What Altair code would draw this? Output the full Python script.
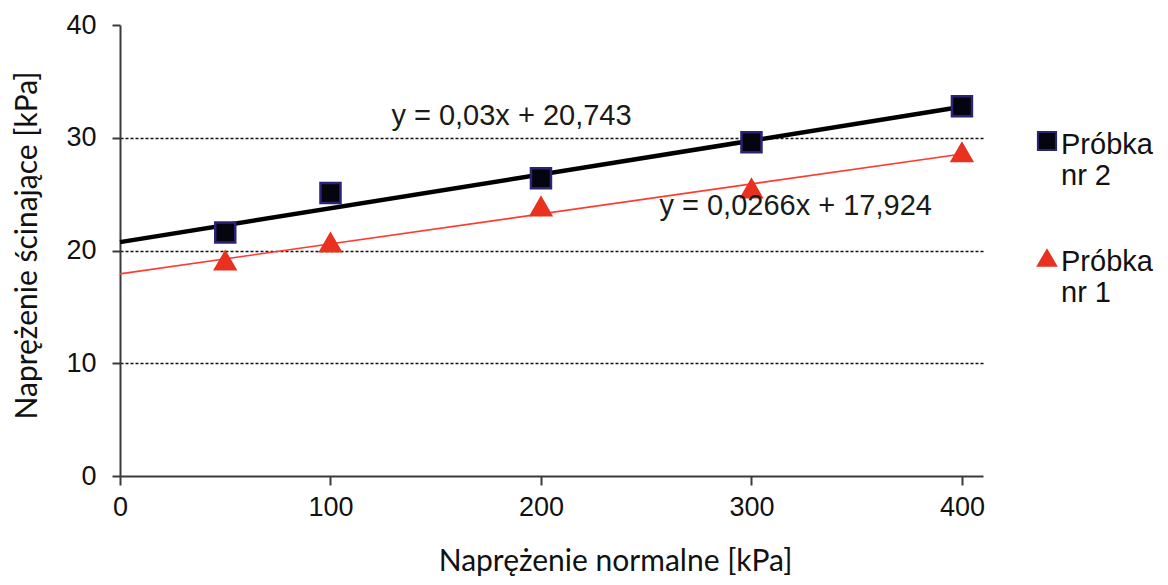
import altair as alt
import pandas as pd

# ---- data ----
x_vals = [50, 100, 200, 300, 400]
nr2_vals = [21.6, 25.1, 26.4, 29.6, 32.8]
nr1_vals = [19.1, 20.7, 23.9, 25.5, 28.7]
series_names = ["Próbka nr 2", "Próbka nr 1"]
slopes = [0.03, 0.0266]
intercepts = [20.743, 17.924]
eq_labels = ["y = 0,03x + 20,743", "y = 0,0266x + 17,924"]
eq_x = [186, 321]
eq_y = [31.13, 23.15]
trend_x = [0, 400]
x_ticks = [0, 100, 200, 300, 400]
y_ticks = [0, 10, 20, 30, 40]

points = pd.DataFrame({
    "x": x_vals * 2,
    "y": nr2_vals + nr1_vals,
    "series": [series_names[0]] * len(x_vals) + [series_names[1]] * len(x_vals),
})

trend_rows = []
for name, a, b in zip(series_names, slopes, intercepts):
    for xv in trend_x:
        trend_rows.append({"x": xv, "y": a * xv + b, "series": name})
trend = pd.DataFrame(trend_rows)

eqs = pd.DataFrame({"x": eq_x, "y": eq_y, "label": eq_labels})
legend_df = pd.DataFrame({"series": series_names})

x_scale = alt.Scale(domain=[0, 410], nice=False, zero=True)
y_scale = alt.Scale(domain=[0, 40], nice=False)
shape_scale = alt.Scale(domain=series_names, range=["square", "triangle-up"])
fill_scale = alt.Scale(domain=series_names, range=["#05050f", "#e8321f"])
stroke_scale = alt.Scale(domain=series_names, range=["#2b2373", "#e8321f"])

axis_col = "#3a3a3a"
x_axis = alt.Axis(
    values=x_ticks, grid=False, domainColor=axis_col, domainWidth=2,
    tickColor=axis_col, tickWidth=2, tickSize=9, labelFlush=False,
    labelFont="Liberation Sans", labelFontSize=27, labelColor="#111", labelPadding=9,
    title="Naprężenie normalne [kPa]", titleFont="Lato", titleFontSize=30,
    titleFontWeight="normal", titleColor="#111", titleX=495, titleY=94,
    titleBaseline="alphabetic", titleAlign="center",
)
y_axis = alt.Axis(
    values=y_ticks, grid=True, gridDash=[3, 2], gridColor="#111111", gridWidth=1.4,
    gridOpacity={"condition": {"test": "datum.value === 0 || datum.value === 40", "value": 0}, "value": 1},
    domainColor=axis_col, domainWidth=2, tickColor=axis_col, tickWidth=2, tickSize=8,
    labelFlush=False,
    labelFont="Liberation Sans", labelFontSize=27, labelColor="#111", labelPadding=16,
    title="Naprężenie ścinające [kPa]", titleFont="Lato", titleFontSize=30,
    titleFontWeight="normal", titleColor="#111", titleAngle=270,
    titleX=-84, titleY=220, titleBaseline="alphabetic", titleAlign="center",
)

lines = alt.Chart(trend).mark_line().encode(
    x=alt.X("x:Q", scale=x_scale, axis=x_axis),
    y=alt.Y("y:Q", scale=y_scale, axis=y_axis),
    color=alt.Color("series:N", scale=alt.Scale(domain=series_names, range=["#000000", "#ff3b2f"]), legend=None),
    strokeWidth=alt.StrokeWidth("series:N", scale=alt.Scale(domain=series_names, range=[4.5, 1.6]), legend=None),
)

pts = alt.Chart(points).mark_point(opacity=1, size=400, strokeWidth=2.5, filled=True).encode(
    x=alt.X("x:Q", scale=x_scale),
    y=alt.Y("y:Q", scale=y_scale),
    shape=alt.Shape("series:N", scale=shape_scale, legend=None),
    fill=alt.Fill("series:N", scale=fill_scale, legend=None),
    stroke=alt.Stroke("series:N", scale=stroke_scale, legend=None),
)

texts = alt.Chart(eqs).mark_text(
    font="Liberation Sans", fontSize=29, color="#1a1a1a", align="center", baseline="alphabetic"
).encode(
    x=alt.X("x:Q", scale=x_scale),
    y=alt.Y("y:Q", scale=y_scale),
    text="label:N",
)

main = alt.layer(lines, pts, texts)

# legend (series placed through a point scale)
leg_y_scale = alt.Scale(domain=series_names, range=[116, 233], padding=0)
leg_pts = alt.Chart(legend_df).mark_point(opacity=1, size=330, strokeWidth=2, filled=True).encode(
    x=alt.value(927),
    y=alt.Y("series:N", scale=leg_y_scale, axis=None),
    shape=alt.Shape("series:N", scale=shape_scale, legend=None),
    fill=alt.Fill("series:N", scale=fill_scale, legend=None),
    stroke=alt.Stroke("series:N", scale=stroke_scale, legend=None),
)
leg_txt = alt.Chart(legend_df).transform_calculate(
    label="[slice(datum.series, 0, 6), slice(datum.series, 7)]"
).mark_text(
    font="Liberation Sans", fontSize=29, color="#111", align="left",
    baseline="alphabetic", lineHeight=31, dy=13,
).encode(
    x=alt.value(941),
    y=alt.Y("series:N", scale=leg_y_scale, axis=None),
    text="label:N",
)
legend_layer = alt.layer(leg_pts, leg_txt)

chart = alt.layer(main, legend_layer).resolve_scale(y="independent").properties(
    width=863, height=451,
    autosize=alt.AutoSizeParams(type="none"),
    padding={"left": 112, "top": 17, "right": 177, "bottom": 101},
    background="white",
).configure_view(stroke=None)

chart.save("out.html", embed_options={"renderer": "svg", "actions": False})
